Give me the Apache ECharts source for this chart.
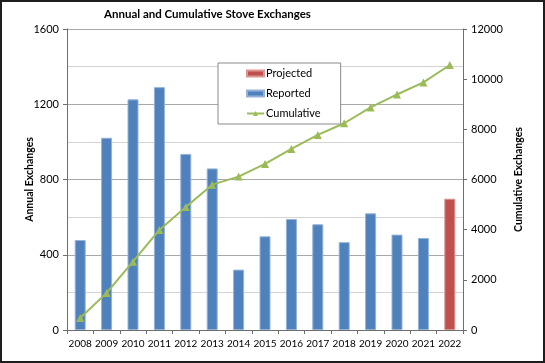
<!DOCTYPE html>
<html>
<head>
<meta charset="utf-8">
<script src="https://cdn.jsdelivr.net/npm/echarts@6/dist/echarts.min.js"></script>
<style>
html,body{margin:0;padding:0;background:#fff;}
#c{position:absolute;left:0;top:0;width:545px;height:363px;}
#frame{position:absolute;left:0;top:0;width:545px;height:363px;box-sizing:border-box;border:2px solid #1e1e1e;pointer-events:none;}
</style>
</head>
<body>
<div id="c"></div>
<div id="frame"></div>
<script>
var years = ['2008','2009','2010','2011','2012','2013','2014','2015','2016','2017','2018','2019','2020','2021','2022'];
var reported = [478, 1022, 1226, 1291, 936, 859, 321, 498, 590, 562, 467, 620, 507, 489, null];
var projected = [null, null, null, null, null, null, null, null, null, null, null, null, null, null, 698];
var cumulative = [478, 1480, 2725, 3990, 4900, 5795, 6115, 6620, 7217, 7777, 8242, 8875, 9390, 9872, 10565];
var leftTicks = [0, 400, 800, 1200, 1600];
var rightTicks = [0, 2000, 4000, 6000, 8000, 10000, 12000];

var FONT = 'Lato';
var plain = function (v) { return String(v); };
var chart = echarts.init(document.getElementById('c'));
chart.setOption({
  animation: false,
  textStyle: {fontFamily: FONT},
  title: {
    text: 'Annual and Cumulative Stove Exchanges',
    left: 99, top: 3,
    textStyle: {fontFamily: FONT, fontSize: 11.5, fontWeight: 'bold', color: '#000'}
  },
  legend: {
    orient: 'vertical',
    left: 218, top: 63,
    padding: [5, 20, 5, 28],
    itemGap: 9,
    itemWidth: 17, itemHeight: 6,
    backgroundColor: '#fff',
    borderColor: '#8a8a8a', borderWidth: 1,
    textStyle: {fontFamily: FONT, fontSize: 11, color: '#000', padding: [0, 0, 0, -3]},
    data: [
      {name: 'Projected', icon: 'rect'},
      {name: 'Reported', icon: 'rect'},
      {name: 'Cumulative'}
    ]
  },
  grid: {left: 67, right: 82, top: 29, bottom: 33},
  xAxis: {
    type: 'category',
    data: years,
    boundaryGap: true,
    axisLine: {lineStyle: {color: '#6e6e6e', width: 1}},
    axisTick: {show: true, alignWithLabel: false, length: 4, lineStyle: {color: '#6e6e6e'}},
    axisLabel: {color: '#000', fontSize: 10, fontFamily: FONT, margin: 9, interval: 0, hideOverlap: false}
  },
  yAxis: [
    {
      type: 'value',
      min: leftTicks[0], max: leftTicks[leftTicks.length - 1], interval: 400,
      name: 'Annual Exchanges',
      nameLocation: 'middle', nameRotate: 90, nameGap: 32, nameMoveOverlap: false,
      nameTextStyle: {fontFamily: FONT, fontSize: 10.5, fontWeight: 'bold', color: '#000'},
      axisLine: {show: true, lineStyle: {color: '#6e6e6e'}},
      axisTick: {show: true, length: 4, lineStyle: {color: '#6e6e6e'}},
      axisLabel: {color: '#000', fontSize: 11, fontFamily: FONT, margin: 8, formatter: plain},
      splitLine: {show: true, lineStyle: {color: '#a8a8a8', width: 1}},
      minorTick: {show: false, splitNumber: 2},
      minorSplitLine: {show: true, lineStyle: {color: '#d4d4d4', width: 1}}
    },
    {
      type: 'value',
      min: rightTicks[0], max: rightTicks[rightTicks.length - 1], interval: 2000,
      name: 'Cumulative Exchanges',
      nameLocation: 'middle', nameRotate: 90, nameGap: 50, nameMoveOverlap: false,
      nameTextStyle: {fontFamily: FONT, fontSize: 10.5, fontWeight: 'bold', color: '#000'},
      axisLine: {show: true, lineStyle: {color: '#6e6e6e'}},
      axisTick: {show: true, length: 4, lineStyle: {color: '#6e6e6e'}},
      axisLabel: {color: '#000', fontSize: 11, fontFamily: FONT, margin: 8, formatter: plain},
      splitLine: {show: false}
    }
  ],
  series: [
    {
      name: 'Projected', type: 'bar', stack: 'annual', data: projected,
      barWidth: 11,
      itemStyle: {color: '#c0504d', borderColor: '#d99694', borderWidth: 1}
    },
    {
      name: 'Reported', type: 'bar', stack: 'annual', data: reported,
      barWidth: 11,
      itemStyle: {color: '#4f81bd', borderColor: '#95b3d7', borderWidth: 1}
    },
    {
      name: 'Cumulative', type: 'line', yAxisIndex: 1, data: cumulative,
      symbol: 'triangle', symbolSize: 8,
      lineStyle: {color: '#9bbb59', width: 2},
      itemStyle: {color: '#9bbb59'},
      z: 5
    }
  ]
});
</script>
</body>
</html>
